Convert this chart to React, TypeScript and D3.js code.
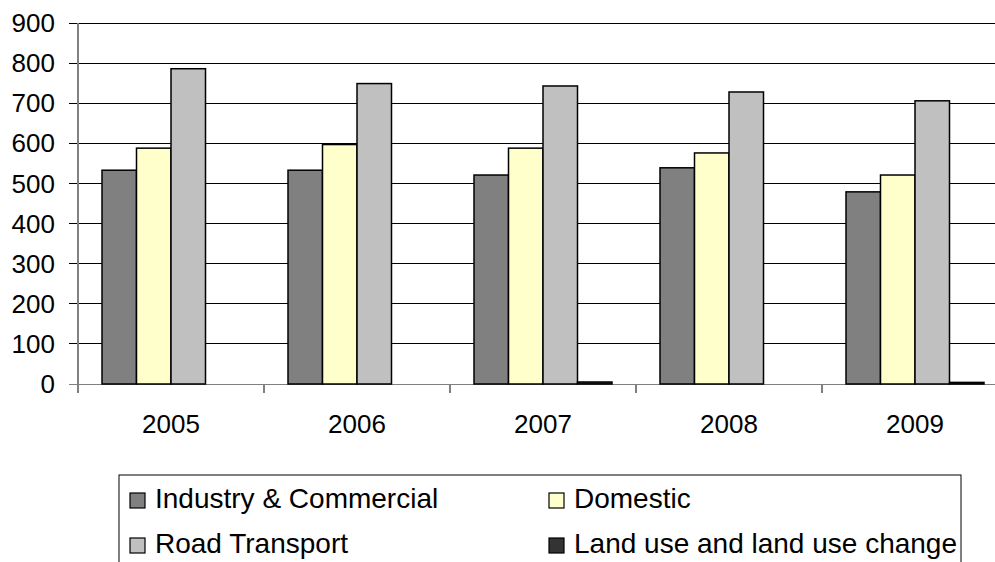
import React from "react";
import * as d3 from "d3";

const years = ["2005", "2006", "2007", "2008", "2009"];
const seriesNames = ["Industry & Commercial", "Domestic", "Road Transport", "Land use and land use change"];
const industry = [533, 533, 521, 539, 479];
const domestic = [588, 597, 588, 576, 521];
const road = [786, 749, 743, 728, 706];
const landUse = [0, 0, 5, 0, 4];
const yTicks = [0, 100, 200, 300, 400, 500, 600, 700, 800, 900];
const colors = ["#808080", "#FFFFCC", "#C0C0C0", "#333333"];

const W = 995, H = 562;
const left = 78, right = 1008, top = 23, bottom = 384;
const FONT = "'Liberation Sans', Arial, sans-serif";

export default function App() {
  const values = [industry, domestic, road, landUse];
  const x0 = d3.scaleBand<string>().domain(years).range([left, right]).paddingInner(48 / 186).paddingOuter(24 / 186);
  const x1 = d3.scaleBand<string>().domain(seriesNames).range([0, x0.bandwidth()]);
  const y = d3.scaleLinear().domain([0, 900]).range([bottom, top]);
  const step = x0.step();
  const boundaries = d3.range(years.length + 1).map((i) => left + i * step);

  return (
    <svg width={W} height={H} style={{ position: "absolute", left: 0, top: 0, background: "#fff" }} fontFamily={FONT}>
      <rect x={0} y={0} width={W} height={H} fill="#fff" />
      {yTicks.map((t) => (
        <g key={t}>
          <line x1={69} x2={W} y1={y(t)} y2={y(t)} stroke={t === 0 ? "#808080" : "#000"} strokeWidth={1} shapeRendering="crispEdges" />
          <text x={55} y={y(t)} dy="0.35em" textAnchor="end" fontSize={26} fill="#000">{t}</text>
        </g>
      ))}
      <line x1={left} x2={left} y1={top} y2={bottom + 9} stroke="#808080" strokeWidth={1.5} shapeRendering="crispEdges" />
      {boundaries.map((b, i) => (
        <line key={i} x1={b} x2={b} y1={bottom} y2={bottom + 9} stroke="#808080" strokeWidth={1.5} shapeRendering="crispEdges" />
      ))}
      {years.map((yr, i) => (
        <g key={yr}>
          {seriesNames.map((s, j) => {
            const v = values[j][i];
            if (v <= 0) return null;
            const bx = (x0(yr) as number) + (x1(s) as number);
            return (
              <rect key={s} x={bx} y={y(v)} width={x1.bandwidth()} height={bottom - y(v)} fill={colors[j]} stroke="#000" strokeWidth={1.5} />
            );
          })}
          <text x={(x0(yr) as number) + x0.bandwidth() / 2} y={433} textAnchor="middle" fontSize={26} fill="#000">{yr}</text>
        </g>
      ))}
      <rect x={119} y={475} width={842} height={140} fill="#fff" stroke="#000" strokeWidth={1} />
      {seriesNames.map((s, j) => {
        const col = j % 2;
        const row = Math.floor(j / 2);
        const lx = col === 0 ? 130 : 549;
        const ly = row === 0 ? 493 : 538;
        return (
          <g key={s}>
            <rect x={lx} y={ly} width={15} height={15} fill={colors[j]} stroke="#000" strokeWidth={1.2} />
            <text x={lx + 25} y={ly + 14.5} fontSize={28} fill="#000">{s}</text>
          </g>
        );
      })}
    </svg>
  );
}
